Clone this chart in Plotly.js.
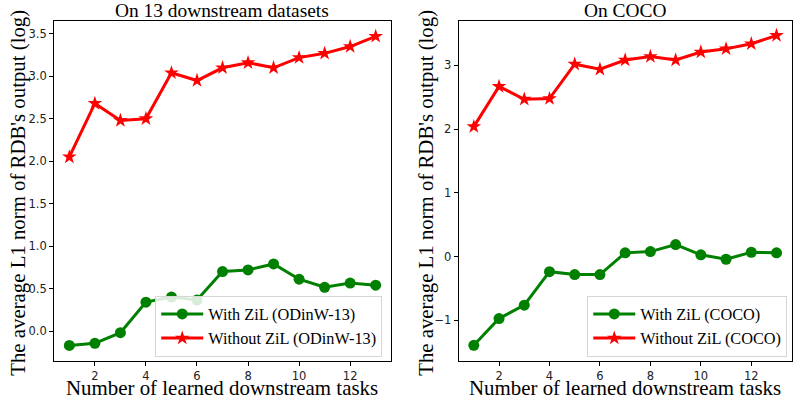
<!DOCTYPE html>
<html>
<head>
<meta charset="utf-8">
<script src="https://cdn.plot.ly/plotly-3.0.1.min.js"></script>
<style>html,body{margin:0;padding:0;background:#fff;}#chart{width:797px;height:400px;}</style>
</head>
<body>
<div id="chart"></div>
<script>
const tasks = [1, 2, 3, 4, 5, 6, 7, 8, 9, 10, 11, 12, 13];
const withZiLOdinw = [-0.17, -0.145, -0.02, 0.34, 0.40, 0.365, 0.70, 0.72, 0.79, 0.61, 0.515, 0.565, 0.54];
const withoutZiLOdinw = [2.05, 2.68, 2.48, 2.50, 3.04, 2.95, 3.10, 3.16, 3.10, 3.22, 3.27, 3.35, 3.47];
const withZiLCoco = [-1.39, -0.97, -0.76, -0.235, -0.28, -0.28, 0.06, 0.08, 0.19, 0.03, -0.04, 0.07, 0.06];
const withoutZiLCoco = [2.04, 2.67, 2.47, 2.48, 3.02, 2.94, 3.085, 3.14, 3.085, 3.21, 3.26, 3.34, 3.47];
const leftTicks = [0.0, 0.5, 1.0, 1.5, 2.0, 2.5, 3.0, 3.5];
const leftTickText = ['0.0', '0.5', '1.0', '1.5', '2.0', '2.5', '3.0', '3.5'];
const rightTicks = [-1, 0, 1, 2, 3];
const rightTickText = ['\u22121', '0', '1', '2', '3'];
const xTicks = [2, 4, 6, 8, 10, 12];

const serif = "'Liberation Serif'";
const sans = "'DejaVu Sans'";

function green(y, name, xa, ya, lg) {
  return {x: tasks, y: y, name: name, xaxis: xa, yaxis: ya, legend: lg, mode: 'lines+markers',
    line: {color: '#008000', width: 3}, marker: {symbol: 'circle', size: 11, color: '#008000'}};
}
function red(y, name, xa, ya, lg) {
  return {x: tasks, y: y, name: name, xaxis: xa, yaxis: ya, legend: lg, mode: 'lines+markers',
    line: {color: '#ff0000', width: 3}, marker: {symbol: 'star', size: 11, color: '#ff0000'}};
}

const data = [
  green(withZiLOdinw, 'With ZiL (ODinW-13)', 'x', 'y', 'legend'),
  red(withoutZiLOdinw, 'Without ZiL (ODinW-13)', 'x', 'y', 'legend'),
  green(withZiLCoco, 'With ZiL (COCO)', 'x2', 'y2', 'legend2'),
  red(withoutZiLCoco, 'Without ZiL (COCO)', 'x2', 'y2', 'legend2')
];

function xaxis(domain, anchor) {
  return {domain: domain, anchor: anchor, range: [0.4, 13.6], tickvals: xTicks, ticks: 'outside', ticklen: 4,
    tickwidth: 1, tickcolor: '#000', showgrid: false, zeroline: false, showline: true, linecolor: '#000',
    linewidth: 1, mirror: true, tickfont: {family: sans, size: 11.5, color: '#222'}};
}
function yaxis(domain, anchor, range, tv, tt) {
  return {domain: domain, anchor: anchor, range: range, tickvals: tv, ticktext: tt, ticks: 'outside', ticklen: 4,
    tickwidth: 1, tickcolor: '#000', showgrid: false, zeroline: false, showline: true, linecolor: '#000',
    linewidth: 1, mirror: true, tickfont: {family: sans, size: 11.5, color: '#222'}};
}
function legendBox(x, y) {
  return {x: x, y: y, xanchor: 'right', yanchor: 'bottom', bgcolor: 'rgba(255,255,255,0.85)',
    bordercolor: '#d6d6d6', borderwidth: 1, font: {family: serif, size: 16.3, color: '#000'},
    tracegroupgap: 0, itemwidth: 42};
}

const ytitle = "The average L1 norm of RDB's output (log)";
const xtitle = 'Number of learned downstream tasks';

const layout = {
  width: 797, height: 400,
  margin: {l: 0, r: 0, t: 0, b: 0},
  paper_bgcolor: '#fff', plot_bgcolor: '#fff',
  xaxis: xaxis([0.0678, 0.4906], 'y'),
  yaxis: yaxis([0.0975, 0.9475], 'x', [-0.353, 3.651], leftTicks, leftTickText),
  xaxis2: xaxis([0.5755, 0.9933], 'y2'),
  yaxis2: yaxis([0.0975, 0.9475], 'x2', [-1.636, 3.697], rightTicks, rightTickText),
  legend: legendBox(0.4796, 0.108),
  legend2: legendBox(0.9878, 0.108),
  annotations: [
    {text: 'On 13 downstream datasets', xref: 'paper', yref: 'paper', x: 0.279, y: 0.975, showarrow: false,
      font: {family: serif, size: 19.4, color: '#000'}, xanchor: 'center', yanchor: 'middle'},
    {text: 'On COCO', xref: 'paper', yref: 'paper', x: 0.7844, y: 0.975, showarrow: false,
      font: {family: serif, size: 19.4, color: '#000'}, xanchor: 'center', yanchor: 'middle'},
    {text: xtitle, xref: 'paper', yref: 'paper', x: 0.279, y: 0.03, showarrow: false,
      font: {family: serif, size: 20.9, color: '#000'}, xanchor: 'center', yanchor: 'middle'},
    {text: xtitle, xref: 'paper', yref: 'paper', x: 0.7844, y: 0.03, showarrow: false,
      font: {family: serif, size: 20.9, color: '#000'}, xanchor: 'center', yanchor: 'middle'},
    {text: ytitle, xref: 'paper', yref: 'paper', x: 0.023, y: 0.519, showarrow: false, textangle: -90,
      font: {family: serif, size: 20.8, color: '#000'}, xanchor: 'center', yanchor: 'middle'},
    {text: ytitle, xref: 'paper', yref: 'paper', x: 0.535, y: 0.519, showarrow: false, textangle: -90,
      font: {family: serif, size: 20.8, color: '#000'}, xanchor: 'center', yanchor: 'middle'}
  ]
};

Plotly.newPlot('chart', data, layout, {displayModeBar: false, staticPlot: true});
</script>
</body>
</html>
